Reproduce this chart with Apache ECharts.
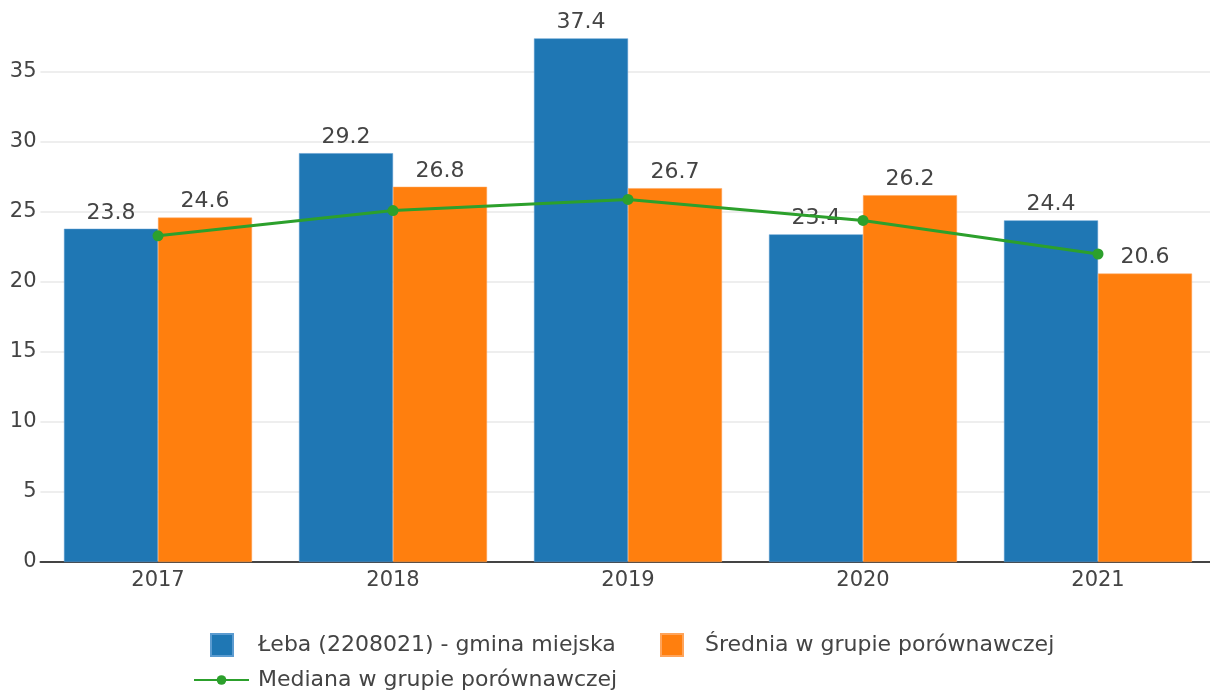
<!DOCTYPE html>
<html>
<head>
<meta charset="utf-8">
<script src="https://cdn.jsdelivr.net/npm/echarts@6/dist/echarts.min.js"></script>
<style>
  html, body { margin: 0; padding: 0; background: #fff; }
  #chart { width: 1210px; height: 695px; }
</style>
</head>
<body>
<div id="chart"></div>
<script>
var years = ['2017', '2018', '2019', '2020', '2021'];
var lebaValues = [23.8, 29.2, 37.4, 23.4, 24.4];
var sredniaValues = [24.6, 26.8, 26.7, 26.2, 20.6];
var medianaValues = [23.3, 25.1, 25.9, 24.4, 22.0];

var nameLeba = 'Łeba (2208021) - gmina miejska';
var nameSrednia = 'Średnia w grupie porównawczej';
var nameMediana = 'Mediana w grupie porównawczej';

var fontFam = 'DejaVu Sans';
var txtColor = '#444';

var chart = echarts.init(document.getElementById('chart'));

function legendText(pad) {
    return { fontFamily: fontFam, fontSize: 22, color: txtColor, padding: [0, 0, 0, pad] };
}

var option = {
    animation: false,
    // plot area runs a few px past the right edge, like the reference
    grid: { left: 40.5, width: 1175, top: 9, bottom: 133, containLabel: false, outerBoundsMode: 'none' },
    legend: [
        { data: [nameLeba], left: 205, top: 628, itemWidth: 22, itemHeight: 22, icon: 'rect', textStyle: legendText(20) },
        { data: [nameSrednia], left: 655, top: 628, itemWidth: 22, itemHeight: 22, icon: 'rect', textStyle: legendText(17) },
        { data: [nameMediana], left: 188, top: 664, itemWidth: 55, itemHeight: 12, textStyle: legendText(4) }
    ],
    xAxis: {
        type: 'category',
        data: years,
        axisTick: { show: false },
        axisLine: { lineStyle: { color: '#444', width: 2 } },
        axisLabel: { fontFamily: fontFam, fontSize: 21, color: txtColor, margin: 8 }
    },
    yAxis: {
        type: 'value',
        min: 0,
        max: 39.5,
        interval: 5,
        axisLine: { show: false },
        axisTick: { show: false },
        axisLabel: {
            fontFamily: fontFam, fontSize: 21, color: txtColor, margin: 4,
            showMaxLabel: false,
            formatter: function (v) { return v % 5 === 0 ? String(v) : ''; }
        },
        splitLine: { showMaxLine: false, lineStyle: { color: '#eee', width: 2 } }
    },
    series: [
        {
            name: nameLeba,
            type: 'bar',
            data: lebaValues,
            barGap: '0%',
            barCategoryGap: '20%',
            itemStyle: { color: '#1f77b4', borderColor: '#5b9bd0', borderWidth: 0.5 },
            label: { show: true, position: 'top', distance: 5, fontFamily: fontFam, fontSize: 22, color: txtColor }
        },
        {
            name: nameSrednia,
            type: 'bar',
            data: sredniaValues,
            barGap: '0%',
            barCategoryGap: '20%',
            itemStyle: { color: '#ff7f0e', borderColor: '#ffa45a', borderWidth: 0.5 },
            label: { show: true, position: 'top', distance: 5, fontFamily: fontFam, fontSize: 22, color: txtColor }
        },
        {
            name: nameMediana,
            type: 'line',
            data: medianaValues,
            symbol: 'circle',
            symbolSize: 11,
            z: 5,
            lineStyle: { color: '#2ca02c', width: 3 },
            itemStyle: { color: '#2ca02c' }
        }
    ]
};

chart.setOption(option);
</script>
</body>
</html>
